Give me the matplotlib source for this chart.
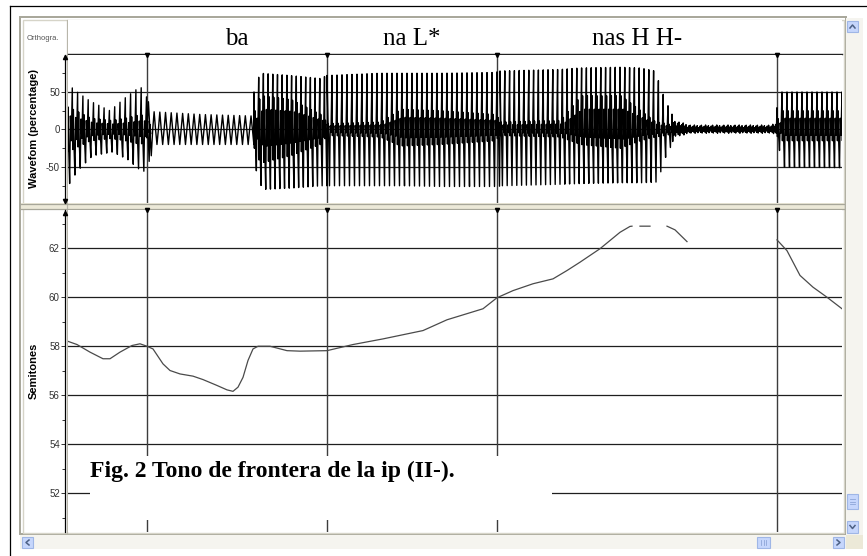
import numpy as np
import matplotlib
matplotlib.use('Agg')
import matplotlib.pyplot as plt
from matplotlib.patches import Rectangle

plt.rcParams['font.family'] = ['Liberation Sans', 'DejaVu Sans']
plt.rcParams['axes.unicode_minus'] = False

W, H = 867, 556

# interval tier: boundaries (s) and the labels between them
bounds = [0.2, 0.65, 1.075, 1.775]
tier_labels = ['ba', 'na L*', 'nas H H-']

# pitch track in semitones, NaN marks unvoiced gaps
f0_t = [0.0025, 0.025, 0.0575, 0.09, 0.1075, 0.1325, 0.1625, 0.1825, 0.2, 0.215,
        0.24, 0.2575, 0.2825, 0.315, 0.34, 0.375, 0.4, 0.415, 0.4275, 0.44,
        0.4525, 0.465, 0.4775, 0.5075, 0.55, 0.5825, 0.65, 0.715, 0.79, 0.89,
        0.95, 0.99, 1.04, 1.075, 1.115, 1.165, 1.215, 1.25, 1.2825, 1.3325,
        1.3825, 1.4075, 1.4125, np.nan, 1.4325, 1.4575, np.nan, 1.5, 1.52, 1.55,
        np.nan, 1.775, 1.8, 1.8325, 1.865, 1.9, 1.9375]
f0_st = [58.2, 58.07, 57.76, 57.49, 57.49, 57.76, 58.03, 58.1, 58.0, 57.89,
         57.28, 57.01, 56.87, 56.78, 56.64, 56.4, 56.22, 56.16, 56.33, 56.73,
         57.42, 57.89, 58.0, 58.0, 57.82, 57.8, 57.82, 58.07, 58.3, 58.64,
         59.08, 59.28, 59.53, 59.98, 60.27, 60.55, 60.75, 61.09, 61.43, 61.98,
         62.65, 62.89, 62.9, np.nan, 62.9, 62.9, np.nan, 62.9, 62.75, 62.27,
         np.nan, 62.34, 61.9, 60.89, 60.41, 60.0, 59.53]

# waveform envelope (percentage): outer peaks and the inner ringing band
env_t = [0.0, 0.02, 0.0575, 0.1075, 0.145, 0.1825, 0.1975, 0.2025, 0.3325, 0.4625,
         0.4675, 0.4825, 0.5575, 0.6325, 0.65, 0.7825, 0.8325, 0.9325, 1.07, 1.0825,
         1.2325, 1.2825, 1.3825, 1.4325, 1.47, 1.495, 1.52, 1.5575, 1.7575, 1.7725,
         1.7775, 1.94]
env_hi = [62, 52, 38, 25, 42, 57, 50, 24, 20, 18,
          50, 75, 72, 68, 72, 75, 75, 75, 76, 78,
          80, 82, 83, 82, 78, 40, 12, 6, 6, 8,
          50, 50]
env_lo = [-72, -55, -35, -30, -40, -57, -50, -20, -20, -20,
          -55, -80, -78, -75, -75, -75, -75, -76, -76, -75,
          -73, -72, -71, -71, -70, -30, -10, -5, -5, -6,
          -50, -51]
env_core_hi = [30, 25, 15, 12, 15, 20, 15, 0, 0, 0,
               25, 45, 40, 20, 8, 10, 27, 25, 20, 10,
               12, 45, 45, 25, 10, 8, 5, 4, 4, 4,
               25, 25]
env_core_lo = [-30, -25, -15, -12, -15, -20, -15, 0, 0, 0,
               -25, -45, -35, -20, -8, -10, -22, -20, -15, -8,
               -10, -20, -25, -15, -10, -8, -5, -4, -4, -4,
               -15, -15]

# stretches of the signal with their period (s) and pulse type
seg_start = [0.0, 0.2, 0.4675, 0.65, 1.0825, 1.5125, 1.775]
seg_end = [0.2, 0.4675, 0.65, 1.0825, 1.5125, 1.775, 1.94]
seg_period = [0.01325, 0.01425, 0.01175, 0.0125, 0.012, 0.0035, 0.0125]
seg_shape = ['pulse', 'sine', 'pulse', 'pulse', 'pulse', 'noise', 'pulse']

# one glottal cycle: sharp positive peak, ringing, sharp negative peak
pulse_frac = [0.0, 0.08, 0.2, 0.32, 0.5, 0.64, 0.8]
noise_gain = [1.0, 0.55, 0.85, 0.4, 0.75, 0.95, 0.5, 0.7]


def build_wave():
    ts, ys = [], []
    for s0, s1, p, shape in zip(seg_start, seg_end, seg_period, seg_shape):
        t = s0
        k = 0
        while t < s1 - 1e-9:
            hi = np.interp(t, env_t, env_hi)
            lo = np.interp(t, env_t, env_lo)
            ch = np.interp(t, env_t, env_core_hi)
            cl = np.interp(t, env_t, env_core_lo)
            if shape == 'sine':
                fr = [0, 0.25, 0.5, 0.75]
                v = [0, hi, 0, lo]
            elif shape == 'noise':
                g = noise_gain[k % len(noise_gain)]
                fr = [0, 0.5]
                v = [hi * g, lo * g]
            else:
                fr = pulse_frac
                v = [hi, cl, ch, 0.8 * cl, lo, 0.6 * ch, 0.5 * cl]
            ts.extend(t + p * np.array(fr))
            ys.extend(v)
            t += p
            k += 1
    return np.array(ts), np.array(ys)


def box(x0, y0, x1, y1):
    return [x0 / W, 1 - y1 / H, (x1 - x0) / W, (y1 - y0) / H]


fig = plt.figure(figsize=(W / 100, H / 100), dpi=100)
fig.patch.set_facecolor('white')

# window chrome in pixel coordinates
bg = fig.add_axes([0, 0, 1, 1])
bg.set_xlim(0, W)
bg.set_ylim(H, 0)
bg.axis('off')
bg.plot([10, W], [6, 6], color='black', lw=0.9)
bg.plot([10, 10], [6, H], color='black', lw=0.9)
bg.add_patch(Rectangle((20, 17), 826, 517, facecolor='white', edgecolor='#a7a699', lw=1.4))
bg.add_patch(Rectangle((22.5, 19.5), 821, 513, facecolor='none', edgecolor='#d6d4c8', lw=1.0))
bg.plot([67, 67], [20, 533], color='#b8b6aa', lw=0.9)
bg.add_patch(Rectangle((21, 203), 823, 6, facecolor='#ece9d8', edgecolor='none'))
bg.plot([21, 844], [203.5, 203.5], color='#a7a699', lw=0.9)
bg.plot([21, 844], [208.5, 208.5], color='#a7a699', lw=0.9)

# scrollbars
sb_face, btn_face, btn_edge, glyph = '#f5f4ef', '#c6d6fc', '#9fb6e6', '#4d6185'
bg.add_patch(Rectangle((846, 18), 17, 517, facecolor=sb_face, edgecolor='none'))
bg.add_patch(Rectangle((20, 535), 826, 14, facecolor=sb_face, edgecolor='none'))
bg.add_patch(Rectangle((846, 535), 17, 14, facecolor='#ece9d8', edgecolor='none'))
for (x0, y0, x1, y1) in [(847, 21, 858, 32), (847, 494, 858, 509), (847, 521, 858, 533),
                         (22, 537, 33, 548), (757, 537, 770, 548), (833, 537, 844, 548)]:
    bg.add_patch(Rectangle((x0, y0), x1 - x0, y1 - y0, facecolor=btn_face,
                           edgecolor=btn_edge, lw=0.8))
bg.plot([850, 852.5, 855], [28, 25, 28], color=glyph, lw=1.1)
bg.plot([850, 852.5, 855], [525.5, 528.5, 525.5], color=glyph, lw=1.1)
bg.plot([29, 26, 29], [540, 542.5, 545], color=glyph, lw=1.1)
bg.plot([837, 840, 837], [540, 542.5, 545], color=glyph, lw=1.1)
for yy in [499, 501.5, 504]:
    bg.plot([850, 855], [yy, yy], color='#8ea6d8', lw=0.6)
for xx in [761, 763.5, 766]:
    bg.plot([xx, xx], [540, 545], color='#8ea6d8', lw=0.6)

xlim = (0.0025, 1.9375)

# interval tier
ax_t = fig.add_axes(box(68, 20, 842, 54))
ax_t.set_xlim(*xlim)
ax_t.set_ylim(0, 1)
ax_t.set_xticks([])
ax_t.set_yticks([])
for s in ['top', 'left', 'right']:
    ax_t.spines[s].set_visible(False)
ax_t.spines['bottom'].set_color('#222222')
ax_t.spines['bottom'].set_linewidth(1.0)
for lab, a, b in zip(tier_labels, bounds[:-1], bounds[1:]):
    ax_t.text((a + b) / 2, 0.27, lab, ha='center', va='baseline', fontsize=18,
              family='Liberation Serif')


def style_panel(ax, ylim, major, minor, label):
    ax.set_xlim(*xlim)
    ax.set_ylim(*ylim)
    ax.set_xticks([])
    ax.set_yticks(major)
    ax.set_yticks(minor, minor=True)
    for s in ['top', 'right', 'bottom']:
        ax.spines[s].set_visible(False)
    ax.spines['left'].set_position(('outward', 2.4))
    ax.spines['left'].set_linewidth(0.9)
    ax.tick_params(axis='y', which='major', length=3, width=0.7, pad=0.5,
                   labelsize=7, colors='#333333')
    ax.tick_params(axis='y', which='minor', length=2.2, width=0.7, colors='#333333')
    ax.grid(axis='y', which='major', color='#1e1e1e', lw=0.9)
    ax.set_ylabel(label, fontsize=8, fontweight='bold')
    ax.yaxis.set_label_coords(-0.038, 0.5)
    for b in bounds:
        ax.axvline(b, color='#3c3c3c', lw=1.0)
        ax.plot(b, ylim[1], marker='v', ms=3, color='black', clip_on=False)


# waveform
ax_w = fig.add_axes(box(68, 55, 842, 203))
style_panel(ax_w, (-98, 99.3), [-50, 0, 50], [-75, -25, 25, 75], 'Wavefom (percentage)')
wt, wy = build_wave()
ax_w.plot(wt, wy, color='black', lw=1.0)

# pitch
ax_p = fig.add_axes(box(68, 210, 842, 532))
style_panel(ax_p, (50.42, 63.56), [52, 54, 56, 58, 60, 62], [51, 53, 55, 57, 59, 61, 63],
            'Semitones')
ax_p.plot(f0_t, f0_st, color='#4a4a4a', lw=0.9)

# overlay: axis arrows, tier heading, figure caption box
top = fig.add_axes([0, 0, 1, 1], zorder=10)
top.set_xlim(0, W)
top.set_ylim(H, 0)
top.axis('off')
top.patch.set_visible(False)
top.plot(64.6, 57, marker='^', ms=3, color='black')
top.plot(64.6, 201, marker='v', ms=3, color='black')
top.plot(64.6, 213, marker='^', ms=3, color='black')
top.text(27, 38, 'Orthogra.', fontsize=5.5, color='#555555', va='center')
top.add_patch(Rectangle((90, 456), 462, 64, facecolor='white', edgecolor='none'))
top.text(90, 477, 'Fig. 2 Tono de frontera de la ip (II-).', fontsize=17,
         fontweight='bold', family='Liberation Serif', va='baseline', ha='left')

fig.savefig('out.png', dpi=100)
